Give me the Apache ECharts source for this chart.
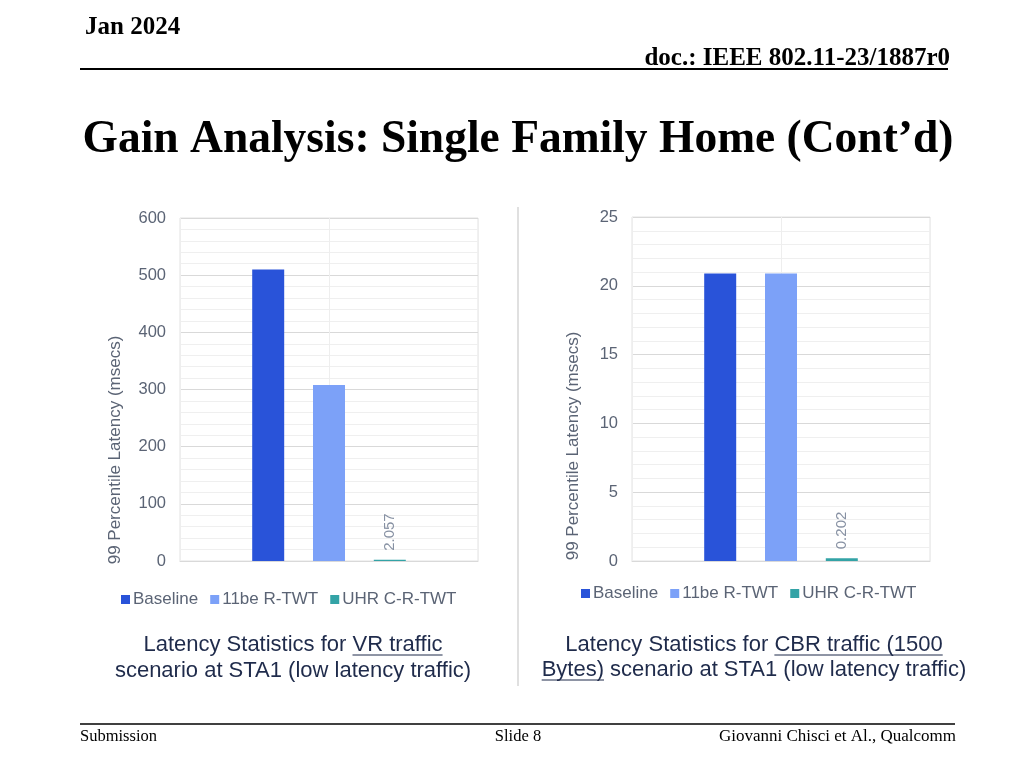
<!DOCTYPE html>
<html><head><meta charset="utf-8">
<script src="https://cdn.jsdelivr.net/npm/echarts@6/dist/echarts.min.js"></script>
<style>html,body{margin:0;padding:0;background:#fff}#c{width:1024px;height:768px}</style>
</head><body><div id="c"></div>
<script>
const seriesNames = ['Baseline', '11be R-TWT', 'UHR C-R-TWT'];
const colors = ['#2953D9', '#7CA1F8', '#33A3A6'];
const vrValues = [510, 308, 2.057];
const cbrValues = [20.9, 20.9, 0.202];
const vrTicks = { min: 0, max: 600, interval: 100 };
const cbrTicks = { min: 0, max: 25, interval: 5 };
const yAxisTitle = '99 Percentile Latency (msecs)';

const capFont = '22px "Liberation Sans", Arial, sans-serif';
const ctx = document.createElement('canvas').getContext('2d');
ctx.font = capFont;
const mw = s => ctx.measureText(s).width;
const capColor = '#1f2b4b';

function captionLine(cx, y, pre, ul, post) {
  const full = pre + ul + post;
  const w = mw(full);
  const x0 = cx - w / 2;
  const els = [{
    type: 'text', x: x0, y: y,
    style: { text: full, font: capFont, fill: capColor, textAlign: 'left', textVerticalAlign: 'middle' }
  }];
  if (ul) {
    const ux = x0 + mw(pre);
    els.push({ type: 'line', shape: { x1: ux, y1: y + 10, x2: ux + mw(ul), y2: y + 10 }, style: { stroke: capColor, lineWidth: 1 } });
  }
  return els;
}

const chart = echarts.init(document.getElementById('c'), null, { renderer: 'canvas' });
const axisLabelStyle = { color: '#5b6475', fontSize: 16.5, fontFamily: 'Liberation Sans, Arial, sans-serif' };

function yAxis(gi, t, minorSplit) {
  return {
    type: 'value', gridIndex: gi, min: t.min, max: t.max, interval: t.interval,
    axisLine: { show: false }, axisTick: { show: false },
    axisLabel: Object.assign({ margin: 14 }, axisLabelStyle),
    splitLine: { lineStyle: { color: '#d9d9d9' } },
    minorTick: { show: false, splitNumber: minorSplit },
    minorSplitLine: { show: true, lineStyle: { color: '#efefef' } }
  };
}

const series = [];
[[vrValues, 0], [cbrValues, 1]].forEach(([vals, gi]) => {
  seriesNames.forEach((n, i) => {
    series.push({
      type: 'bar', name: n, xAxisIndex: gi * 2, yAxisIndex: gi,
      data: [vals[i]], barWidth: 32, barGap: '90%',
      itemStyle: { color: colors[i] },
      label: i === 2 ? {
        show: true, position: 'top', rotate: 90, align: 'left', verticalAlign: 'middle',
        distance: 9, color: '#8791a3', fontSize: 15, fontFamily: 'Liberation Sans, Arial, sans-serif'
      } : { show: false }
    });
  });
});

function xAxes(gi) {
  return [
    { type: 'category', gridIndex: gi, data: [''], axisTick: { show: false }, axisLabel: { show: false },
      axisLine: { lineStyle: { color: '#d9d9d9' } } },
    { type: 'category', gridIndex: gi, data: ['', ''], position: 'bottom', axisTick: { show: false }, axisLabel: { show: false },
      axisLine: { show: false }, splitLine: { show: true, interval: 0, lineStyle: { color: '#eeeeee' } } }
  ];
}

const legendCommon = {
  icon: 'rect', itemWidth: 9, itemHeight: 9, itemGap: 12, data: seriesNames,
  textStyle: { color: '#5b6475', fontSize: 17, fontFamily: 'Liberation Sans, Arial, sans-serif', padding: [0, 0, 0, -2] }
};

const serif = '"Liberation Serif", "Times New Roman", serif';
const graphics = [
  { type: 'text', x: 85, y: 28, style: { text: 'Jan 2024', font: 'bold 25px ' + serif, fill: '#000', textVerticalAlign: 'middle' } },
  { type: 'text', x: 950, y: 59, style: { text: 'doc.: IEEE 802.11-23/1887r0', font: 'bold 25px ' + serif, fill: '#000', textAlign: 'right', textVerticalAlign: 'middle' } },
  { type: 'line', shape: { x1: 80, y1: 69, x2: 948, y2: 69 }, style: { stroke: '#000', lineWidth: 2 } },
  { type: 'text', x: 518, y: 140, style: { text: 'Gain Analysis: Single Family Home (Cont’d)', font: 'bold 45.5px ' + serif, fill: '#000', textAlign: 'center', textVerticalAlign: 'middle' } },
  { type: 'line', shape: { x1: 518, y1: 207, x2: 518, y2: 686 }, style: { stroke: '#d6d6d6', lineWidth: 1.5 } },
  { type: 'text', x: 115, y: 450, rotation: Math.PI / 2, style: { text: yAxisTitle, font: '17px "Liberation Sans", Arial, sans-serif', fill: '#5b6475', textAlign: 'center', textVerticalAlign: 'middle' } },
  { type: 'text', x: 573, y: 446, rotation: Math.PI / 2, style: { text: yAxisTitle, font: '17px "Liberation Sans", Arial, sans-serif', fill: '#5b6475', textAlign: 'center', textVerticalAlign: 'middle' } },
  ...captionLine(293, 645, 'Latency Statistics for ', 'VR traffic', ''),
  ...captionLine(293, 671, 'scenario at STA1 (low latency traffic)', '', ''),
  ...captionLine(754, 645, 'Latency Statistics for ', 'CBR traffic (1500', ''),
  ...captionLine(754, 670, '', 'Bytes)', ' scenario at STA1 (low latency traffic)'),
  { type: 'line', shape: { x1: 80, y1: 724, x2: 955, y2: 724 }, style: { stroke: '#000', lineWidth: 1.5 } },
  { type: 'text', x: 80, y: 737, style: { text: 'Submission', font: '16.5px ' + serif, fill: '#000', textVerticalAlign: 'middle' } },
  { type: 'text', x: 518, y: 737, style: { text: 'Slide 8', font: '16.5px ' + serif, fill: '#000', textAlign: 'center', textVerticalAlign: 'middle' } },
  { type: 'text', x: 956, y: 737, style: { text: 'Giovanni Chisci et Al., Qualcomm', font: '17px ' + serif, fill: '#000', textAlign: 'right', textVerticalAlign: 'middle' } }
];

chart.setOption({
  backgroundColor: '#ffffff',
  animation: false,
  grid: [
    { left: 180, top: 218, width: 298, height: 343, show: true, borderColor: '#e2e2e2', borderWidth: 1 },
    { left: 632, top: 217, width: 298, height: 344, show: true, borderColor: '#e2e2e2', borderWidth: 1 }
  ],
  xAxis: [...xAxes(0), ...xAxes(1)],
  yAxis: [yAxis(0, vrTicks, 5), yAxis(1, cbrTicks, 5)],
  legend: [
    Object.assign({}, legendCommon, { left: 116, top: 586 }),
    Object.assign({}, legendCommon, { left: 576, top: 580 })
  ],
  series: series,
  graphic: graphics
});
</script></body></html>
